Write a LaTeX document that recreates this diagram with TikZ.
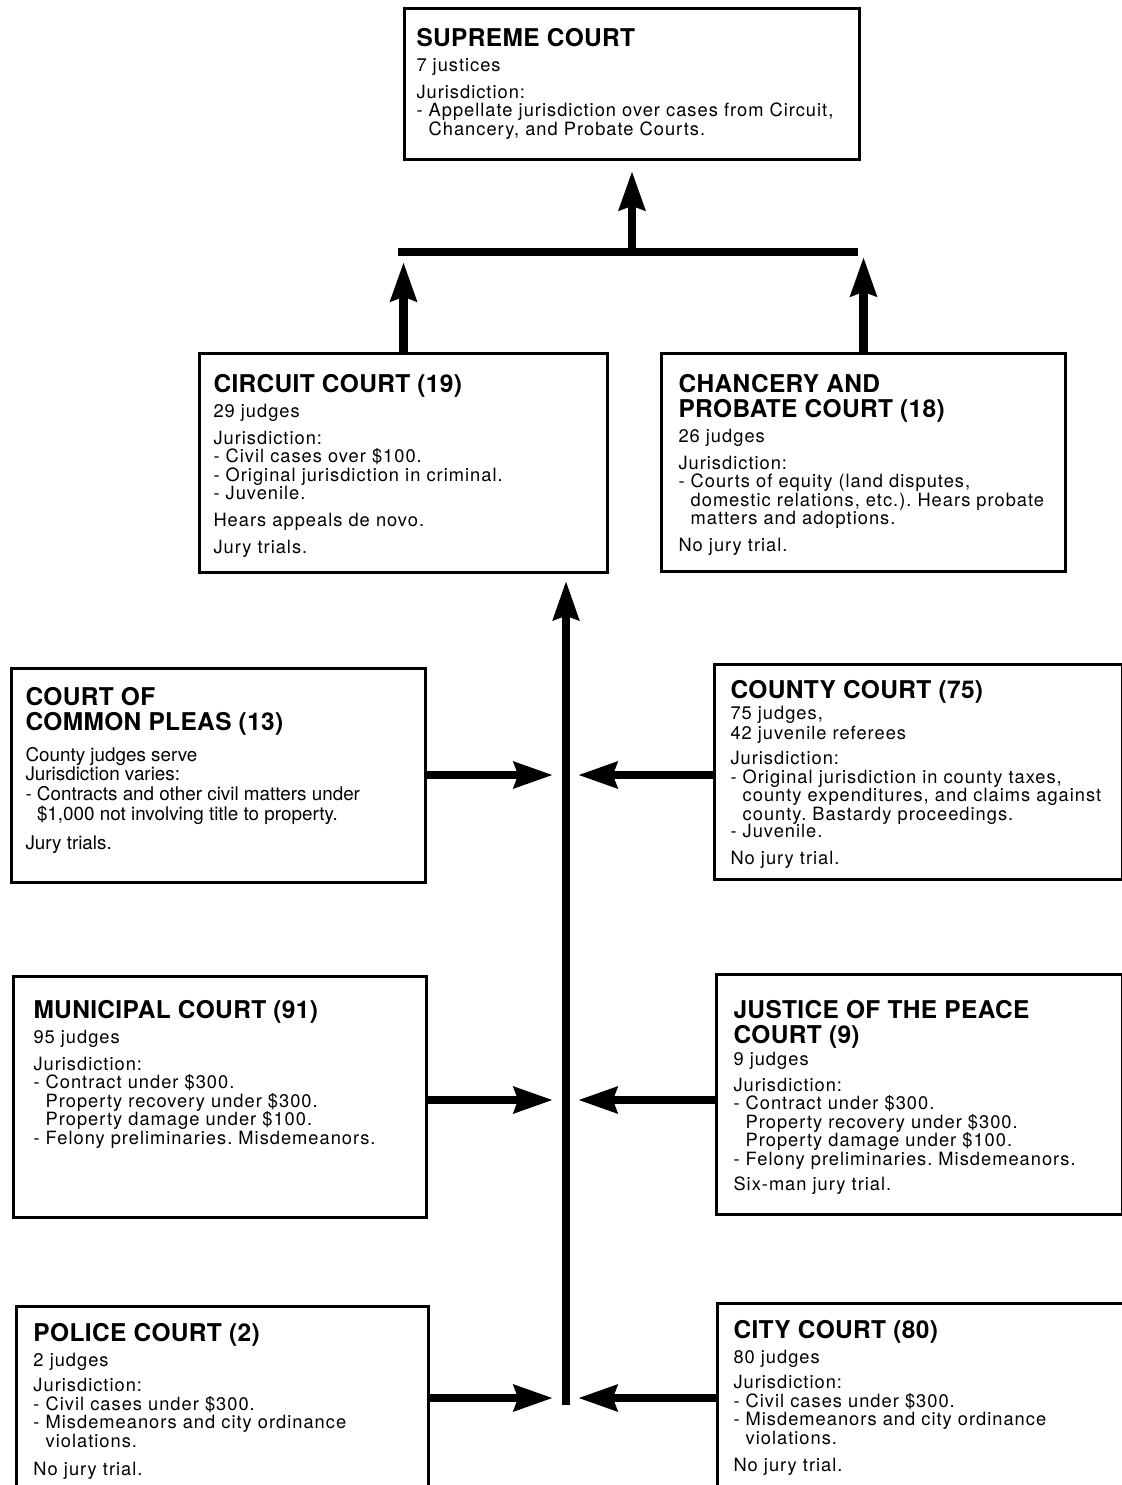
\documentclass[tikz,border=0pt]{standalone}
\usepackage{fontspec}
\setmainfont{TeX Gyre Heros}
\newfontfamily\headfont[LetterSpace=1.5]{TeX Gyre Heros}
\newfontfamily\bodyfont[LetterSpace=5.5]{TeX Gyre Heros}
\usepackage{tikz}
\usetikzlibrary{arrows.meta, calc}
\frenchspacing
\newlength{\pxu}
\setlength{\pxu}{0.025cm}
\newcommand{\contd}{\hphantom{- }}
\newcommand{\Title}[1]{{\headfont\bfseries\fontsize{17.4pt}{17.8pt}\selectfont #1\par}\vspace{4.3pt}}
\providecommand{\Court}[8]{%
  % name, left, top, width, height, left pad, top pad (px), text
  \node[court] (#1) at (#2,#3) {\parbox[t][#5\pxu][t]{#4\pxu}{%
      \raggedright\leftskip=#6\pxu
      \bodyfont\fontsize{13pt}{13.2pt}\selectfont
      \vspace*{#7\pxu}#8}};
}
\tikzset{
  court/.style={draw, line width=0.075cm, anchor=north west, inner sep=0pt},
  feed/.style={line width=0.21cm, -{Stealth[length=0.97cm, width=0.64cm, inset=0.1cm]}},
  crossbar/.style={line width=0.2cm},
}

\begin{document}
\begin{tikzpicture}[x=0.025cm, y=-0.025cm]

  \path[use as bounding box, clip] (0,0) rectangle (1122,1485);

  \Court{supreme}{403}{7}{455}{151}{12}{20}{%
    \Title{SUPREME COURT}
    7 justices\\[6pt]
    Jurisdiction:\\
    - Appellate jurisdiction over cases from Circuit,\\
    \contd Chancery, and Probate Courts.}

  \Court{circuit}{198}{352}{408}{219}{14}{21}{%
    \Title{CIRCUIT COURT (19)}
    29 judges\\[6pt]
    Jurisdiction:\\
    - Civil cases over \$100.\\
    - Original jurisdiction in criminal.\\
    - Juvenile.\\[6pt]
    Hears appeals de novo.\\[6pt]
    Jury trials.}

  \Court{chancery}{660}{352}{404}{218}{17}{21}{%
    \Title{CHANCERY AND\\PROBATE COURT (18)}
    26 judges\\[6pt]
    Jurisdiction:\\
    - Courts of equity (land disputes,\\
    \contd domestic relations, etc.). Hears probate\\
    \contd matters and adoptions.\\[6pt]
    No jury trial.}

  \Court{pleas}{10}{667}{414}{214}{14}{19}{%
    \normalfont\fontsize{13.4pt}{14pt}\selectfont
    \Title{COURT OF\\COMMON PLEAS (13)}
    \vspace{3.4pt}
    County judges serve\\
    Jurisdiction varies:\\
    - Contracts and other civil matters under\\
    \contd\$1,000 not involving title to property.\\[7pt]
    Jury trials.}

  \Court{county}{713}{663}{408}{215}{16}{16}{%
    \Title{COUNTY COURT (75)}
    \vspace{-2.9pt}
    75 judges,\\[1pt]
    42 juvenile referees\\[5pt]
    Jurisdiction:\\
    - Original jurisdiction in county taxes,\\
    \contd county expenditures, and claims against\\
    \contd county. Bastardy proceedings.\\[-1pt]
    - Juvenile.\\[6pt]
    No jury trial.}

  \Court{municipal}{12}{975}{413}{241}{20}{24}{%
    \Title{MUNICIPAL COURT (91)}
    95 judges\\[6pt]
    Jurisdiction:\\
    - Contract under \$300.\\
    \contd Property recovery under \$300.\\
    \contd Property damage under \$100.\\
    - Felony preliminaries. Misdemeanors.}

  \Court{justice}{715}{973}{406}{240}{17}{26}{%
    \Title{JUSTICE OF THE PEACE\\COURT (9)}
    \vspace{-2pt}
    9 judges\\[5pt]
    Jurisdiction:\\
    - Contract under \$300.\\
    \contd Property recovery under \$300.\\
    \contd Property damage under \$100.\\
    - Felony preliminaries. Misdemeanors.\\[5pt]
    Six-man jury trial.}

  \Court{police}{15}{1305}{412}{186}{17}{17}{%
    \Title{POLICE COURT (2)}
    2 judges\\[5pt]
    Jurisdiction:\\
    - Civil cases under \$300.\\
    - Misdemeanors and city ordinance\\
    \contd violations.\\[7pt]
    No jury trial.}

  \Court{city}{716}{1302}{406}{192}{16}{17}{%
    \Title{CITY COURT (80)}
    80 judges\\[5pt]
    Jurisdiction:\\
    - Civil cases under \$300.\\
    - Misdemeanors and city ordinance\\
    \contd violations.\\[6pt]
    No jury trial.}

  \coordinate (barL) at (398,252);
  \coordinate (barR) at (858,252);
  \coordinate (trunkfoot) at (566,1405);

  \draw[crossbar] (barL) -- (barR);
  \draw[feed, shorten >=0.25cm] (supreme.south |- barL) -- (supreme.south);
  \draw[feed, shorten >=0.25cm] (circuit.north) -- (circuit.north |- barL);
  \draw[feed, shorten >=0.125cm] (chancery.north) -- (chancery.north |- barL);
  \draw[feed, line width=0.19cm, shorten >=0.175cm] (trunkfoot) -- (circuit.south -| trunkfoot);

  % lower courts feed the trunk from both sides
  \foreach \lft/\rgt/\yy in {pleas/county/775, municipal/justice/1100, police/city/1398}{
    \coordinate (hub) at (566,\yy);
    \draw[feed, shorten >=0.325cm] (\lft.east |- hub) -- (hub);
    \draw[feed, shorten >=0.3cm] (\rgt.west |- hub) -- (hub);
  }

\end{tikzpicture}
\end{document}
